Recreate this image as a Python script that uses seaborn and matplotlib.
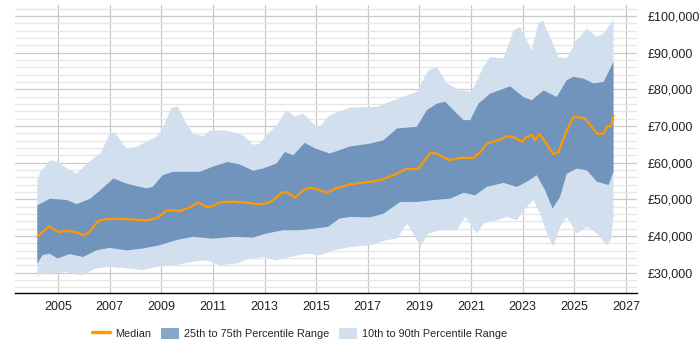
import numpy as np
import pandas as pd
import seaborn as sns
import matplotlib
matplotlib.use("Agg")
import matplotlib.pyplot as plt
from matplotlib.patches import Patch
from matplotlib.lines import Line2D
from matplotlib.ticker import FuncFormatter, MultipleLocator

# values (year, GBP)
p90_years = [2004.2, 2004.32, 2004.7, 2005.0, 2005.35, 2005.73, 2006.12, 2006.64, 2007.02, 2007.2,
             2007.65, 2008.03, 2008.42, 2008.8, 2009.06, 2009.38, 2009.64, 2009.9, 2010.23, 2010.62,
             2010.88, 2011.52, 2012.17, 2012.56, 2012.82, 2013.08, 2013.47, 2013.85, 2014.18, 2014.5,
             2014.95, 2015.14, 2015.53, 2016.3, 2017.35, 2018.0, 2018.9, 2019.35, 2019.68, 2020.06,
             2020.58, 2021.03, 2021.48, 2021.74, 2022.26, 2022.65, 2022.9, 2023.35, 2023.61, 2023.78,
             2024.06, 2024.39, 2024.71, 2025.1, 2025.49, 2025.88, 2026.14, 2026.52]
p90_vals = [55200, 57500, 60700, 60200, 58400, 57000, 59800, 62500, 67900, 68200,
            63900, 64300, 65700, 67000, 69300, 74800, 75400, 71600, 67900, 67200,
            68800, 68800, 67500, 64900, 65200, 67500, 70200, 74300, 72500, 73400,
            70200, 69900, 72900, 75000, 75200, 77000, 79300, 85200, 86100, 81600,
            79700, 79300, 86100, 88800, 88400, 96100, 97000, 90600, 97900, 98800,
            94300, 88800, 88400, 93400, 96500, 94300, 95200, 99100]

p75_years = [2004.2, 2004.7, 2005.35, 2005.73, 2006.25, 2006.64, 2007.15, 2007.65, 2008.42, 2008.67,
             2009.06, 2009.45, 2009.97, 2010.49, 2011.0, 2011.58, 2012.04, 2012.56, 2012.94, 2013.47,
             2013.79, 2014.11, 2014.56, 2014.95, 2015.53, 2016.3, 2017.09, 2017.61, 2018.13, 2018.9,
             2019.29, 2019.68, 2020.0, 2020.32, 2020.71, 2020.97, 2021.29, 2021.74, 2022.52, 2023.03,
             2023.35, 2023.81, 2024.32, 2024.71, 2024.97, 2025.36, 2025.75, 2026.14, 2026.52]
p75_vals = [48400, 50200, 49800, 48700, 50200, 52500, 55700, 54300, 53000, 53400,
            56600, 57500, 57500, 57500, 58900, 60200, 59500, 57800, 58400, 59800,
            62900, 62000, 65400, 63900, 62500, 64400, 65200, 66100, 69300, 69800,
            74300, 76100, 76600, 74300, 71600, 71600, 76100, 78800, 80800, 77900,
            77000, 79700, 77900, 82500, 83400, 82900, 81600, 82000, 87500]

median_years = [2004.2, 2004.48, 2004.67, 2004.87, 2005.06, 2005.32, 2005.7, 2005.99, 2006.22, 2006.55,
                2006.87, 2007.26, 2007.9, 2008.42, 2008.8, 2009.06, 2009.19, 2009.45, 2009.71, 2010.1,
                2010.42, 2010.81, 2011.0, 2011.26, 2011.78, 2012.3, 2012.69, 2013.08, 2013.34, 2013.66,
                2013.85, 2014.18, 2014.5, 2014.76, 2015.14, 2015.4, 2015.79, 2016.3, 2017.09, 2017.48,
                2018.0, 2018.52, 2018.77, 2018.97, 2019.16, 2019.42, 2019.68, 2019.94, 2020.19, 2020.58,
                2021.1, 2021.36, 2021.61, 2021.87, 2022.13, 2022.39, 2022.65, 2022.97, 2023.16, 2023.38,
                2023.48, 2023.65, 2023.81, 2024.0, 2024.19, 2024.39, 2024.58, 2024.78, 2024.97, 2025.23,
                2025.42, 2025.62, 2025.88, 2026.14, 2026.26, 2026.42, 2026.52]
median_vals = [39800, 41600, 42700, 41600, 41100, 41400, 41100, 40200, 41100, 44100,
               44600, 44700, 44500, 44300, 44800, 46100, 47000, 47000, 46800, 47800,
               49100, 47800, 48200, 49200, 49400, 49100, 48700, 48900, 49800, 51800,
               52000, 50500, 52500, 53200, 52500, 51800, 53000, 54100, 54800, 55200,
               56600, 58400, 58200, 58400, 60200, 62700, 62500, 61400, 60700, 61300,
               61300, 62900, 65200, 65700, 66300, 67200, 67000, 65700, 67000, 67600,
               66100, 67800, 66300, 64300, 62300, 62900, 66600, 69800, 72500, 72300,
               72000, 70200, 67900, 67900, 69800, 69900, 72900]

p25_years = [2004.2, 2004.4, 2004.67, 2004.99, 2005.45, 2005.97, 2006.48, 2007.0, 2007.65, 2008.29,
             2008.93, 2009.58, 2010.23, 2011.0, 2011.78, 2012.56, 2013.08, 2013.72, 2014.37, 2015.01,
             2015.46, 2015.91, 2016.3, 2017.09, 2017.61, 2018.26, 2018.9, 2019.55, 2020.19, 2020.71,
             2021.16, 2021.61, 2022.26, 2022.78, 2023.16, 2023.55, 2023.87, 2024.16, 2024.45, 2024.71,
             2025.1, 2025.49, 2025.88, 2026.14, 2026.33, 2026.52]
p25_vals = [32500, 34800, 35200, 33900, 35100, 34300, 36100, 36800, 36100, 36600,
            37500, 38900, 39800, 39300, 39800, 39600, 40700, 41600, 41600, 42100,
            42500, 44800, 45200, 45100, 46100, 49300, 49300, 49800, 50200, 51800,
            51100, 53400, 54500, 53400, 54800, 56600, 52500, 47500, 50700, 57000,
            58400, 57900, 54800, 54300, 53900, 57500]

p10_years = [2004.2, 2004.32, 2004.8, 2005.32, 2005.9, 2006.48, 2007.0, 2007.65, 2008.29, 2008.8,
             2009.58, 2010.23, 2010.75, 2011.26, 2011.91, 2012.43, 2012.94, 2013.47, 2013.98, 2014.63,
             2015.14, 2015.66, 2016.3, 2017.09, 2017.74, 2018.13, 2018.52, 2018.84, 2019.03, 2019.35,
             2019.81, 2020.45, 2020.77, 2021.23, 2021.48, 2022.0, 2022.39, 2022.78, 2023.03, 2023.42,
             2023.68, 2023.94, 2024.19, 2024.45, 2024.71, 2025.1, 2025.49, 2025.88, 2026.26, 2026.42,
             2026.52]
p10_vals = [28900, 29800, 29800, 30200, 29300, 31200, 31600, 31200, 30700, 31600,
            32100, 33000, 33400, 32100, 32500, 33900, 34300, 33400, 34300, 35200,
            34800, 36100, 37000, 37500, 38900, 39300, 43400, 39800, 37100, 40700,
            41600, 41600, 45200, 40700, 43400, 44300, 45200, 44300, 47000, 49800,
            46100, 40700, 37100, 42500, 45200, 40700, 42500, 40700, 37500, 38900,
            45200]

median_df = pd.DataFrame({"year": median_years, "salary": median_vals})

light = "#d1dfee"
dark = "#7094bb"
orange = "#ff9900"

sns.set_style("white")
plt.rcParams["font.family"] = ["Liberation Sans", "DejaVu Sans"]

fig = plt.figure(figsize=(7, 3.5), dpi=100)
ax = fig.add_axes([0.022, 0.163, 0.888, 0.823])

# 10th-90th band, then 25th-75th band on top
ax.fill(p90_years + p10_years[::-1], p90_vals + p10_vals[::-1], color=light, lw=0, zorder=2)
ax.fill(p75_years + p25_years[::-1], p75_vals + p25_vals[::-1], color=dark, lw=0, zorder=3)
sns.lineplot(data=median_df, x="year", y="salary", color=orange, lw=1.6, ax=ax, zorder=4)

ax.set_xlim(2003.35, 2027.43)
ax.set_ylim(24500, 103000)
ax.yaxis.set_major_locator(MultipleLocator(10000))
ax.yaxis.set_minor_locator(MultipleLocator(2000))
ax.set_xticks(range(2005, 2028, 2))
ax.yaxis.set_major_formatter(FuncFormatter(lambda v, p: "£{:,.0f}".format(v)))
ax.yaxis.tick_right()

ax.grid(True, which="major", axis="y", color="#cccccc", lw=0.9, zorder=0)
ax.grid(True, which="minor", axis="y", color="#e6e6e6", lw=0.9, zorder=0)
ax.grid(True, which="major", axis="x", color="#c8c8c8", lw=0.9, zorder=0)
ax.set_axisbelow(True)

for s in ["top", "left", "right"]:
    ax.spines[s].set_visible(False)
ax.spines["bottom"].set_color("#000000")
ax.spines["bottom"].set_linewidth(1.0)

ax.tick_params(axis="x", length=4, width=1, color="#000000", labelsize=9, pad=2, colors="#222222")
ax.tick_params(axis="y", which="both", length=0, labelsize=9, pad=8, colors="#222222")
ax.set_xlabel("")
ax.set_ylabel("")

handles = [
    Line2D([0], [0], color=orange, lw=2.5),
    Patch(facecolor="#87a5c6", edgecolor="none"),
    Patch(facecolor=light, edgecolor="none"),
]
labels = ["Median", "25th to 75th Percentile Range", "10th to 90th Percentile Range"]
fig.legend(handles, labels, loc="center", bbox_to_anchor=(0.428, 0.047), ncol=3, frameon=False,
           fontsize=7.8, handlelength=1.7, handleheight=1.3, columnspacing=0.9, handletextpad=0.45)

fig.savefig("out.png", dpi=100)
